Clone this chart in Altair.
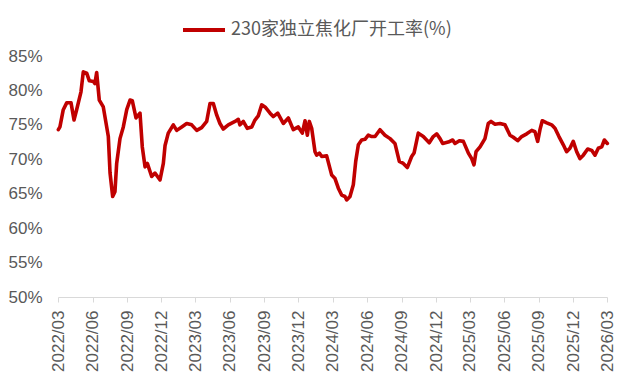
import altair as alt
import pandas as pd

# months elapsed since 2022-03-01
month_offset = [
    0.03, 0.17, 0.46, 0.76, 1.14, 1.40, 1.63, 2.01, 2.21, 2.51, 2.74, 3.09, 3.23, 3.38, 3.61,
    3.96, 4.40, 4.55, 4.78, 4.98, 5.13, 5.42, 5.71, 6.01, 6.30, 6.50, 6.82, 7.17, 7.37, 7.61,
    7.81, 8.19, 8.48, 8.92, 9.21, 9.36, 9.64, 10.08, 10.38, 10.82, 11.25, 11.69, 12.13, 12.56,
    13.00, 13.29, 13.58, 13.88, 14.16, 14.45, 14.89, 15.48, 15.76, 15.91, 16.20, 16.55, 16.94,
    17.22, 17.51, 17.81, 18.10, 18.54, 18.82, 19.21, 19.70, 20.14, 20.57, 21.01, 21.36, 21.60,
    21.80, 21.97, 22.18, 22.47, 22.62, 22.85, 23.06, 23.49, 23.93, 24.22, 24.51, 24.80, 25.09,
    25.24, 25.53, 25.82, 26.03, 26.26, 26.55, 26.84, 27.13, 27.43, 27.72, 28.15, 28.59, 29.03,
    29.46, 29.84, 30.19, 30.54, 30.92, 31.13, 31.50, 31.94, 32.46, 32.81, 33.11, 33.40, 33.63,
    34.12, 34.51, 34.71, 35.09, 35.44, 35.88, 36.17, 36.37, 36.55, 36.90, 37.33, 37.62, 37.86,
    38.21, 38.64, 39.08, 39.52, 39.81, 40.19, 40.54, 40.98, 41.42, 41.70, 41.94, 42.14, 42.34,
    42.73, 43.16, 43.45, 43.80, 44.18, 44.47, 44.76, 45.05, 45.35, 45.64, 45.93, 46.31, 46.66,
    46.95, 47.24, 47.54, 47.77, 48.03,
]
rate = [
    74.3, 74.7, 77.2, 78.2, 78.2, 75.7, 77.2, 79.8, 82.7, 82.5, 81.4, 81.3, 81.0, 82.6, 78.6,
    77.6, 73.3, 68.0, 64.6, 65.3, 69.4, 73.0, 74.7, 77.2, 78.6, 78.5, 76.0, 76.7, 71.8, 68.9,
    69.4, 67.5, 68.0, 67.0, 69.4, 72.0, 73.8, 75.0, 74.2, 74.7, 75.2, 75.0, 74.2, 74.6,
    75.5, 78.1, 78.1, 76.4, 75.2, 74.4, 75.0, 75.5, 75.8, 75.0, 75.5, 74.5, 74.7,
    75.7, 76.3, 77.9, 77.6, 76.7, 76.2, 76.7, 75.2, 76.0, 74.3, 74.7, 73.8, 75.6,
    73.5, 75.5, 74.5, 71.1, 70.6, 70.9, 70.4, 70.5, 67.7, 67.2, 65.8, 64.8, 64.6,
    64.1, 64.6, 66.3, 69.7, 72.1, 72.8, 72.9, 73.5, 73.3, 73.3, 74.3, 73.5, 73.0,
    72.3, 69.7, 69.4, 68.8, 70.4, 70.9, 73.8, 73.3, 72.4, 73.3, 73.7, 73.0, 72.3,
    72.5, 72.8, 72.3, 72.7, 72.6, 70.9, 70.1, 69.2, 71.1, 71.8, 73.0, 75.2, 75.5,
    75.1, 75.2, 75.0, 73.5, 73.2, 72.7, 73.3, 73.7, 74.2, 74.0, 72.6, 74.3, 75.6,
    75.3, 75.0, 74.5, 73.3, 72.1, 71.1, 71.6, 72.6, 71.1, 70.1, 70.6, 71.5, 71.3,
    70.6, 71.6, 71.8, 72.8, 72.3,
]
tick_months = ["2022-03", "2022-06", "2022-09", "2022-12", "2023-03", "2023-06", "2023-09",
               "2023-12", "2024-03", "2024-06", "2024-09", "2024-12", "2025-03", "2025-06",
               "2025-09", "2025-12", "2026-03"]
y_ticks = [50, 55, 60, 65, 70, 75, 80, 85]
series_name = "230家独立焦化厂开工率(%)"

start = pd.Timestamp("2022-03-01")
df = pd.DataFrame({
    "date": [start + pd.Timedelta(days=m * 30.4375) for m in month_offset],
    "rate": rate,
    "series": series_name,
})

tick_values = [alt.DateTime(year=int(t[:4]), month=int(t[5:]), date=1) for t in tick_months]

FONT = "Liberation Sans"
GREY = "#595959"

chart = alt.Chart(df).mark_line(strokeWidth=3.6, strokeJoin="round", strokeCap="round").encode(
    x=alt.X(
        "date:T",
        scale=alt.Scale(domain=[alt.DateTime(year=2022, month=3, date=1),
                                alt.DateTime(year=2026, month=3, date=1)]),
        axis=alt.Axis(
            title=None, values=tick_values, format="%Y/%m", labelAngle=-90,
            labelFont=FONT, labelFontSize=17, labelColor=GREY, labelPadding=8,
            domainColor="#d9d9d9", tickColor="#d9d9d9", tickSize=5, grid=False,
            labelOverlap=False, labelFlush=False,
        ),
    ),
    y=alt.Y(
        "rate:Q",
        scale=alt.Scale(domain=[50, 85], nice=False, zero=False),
        axis=alt.Axis(
            title=None, values=y_ticks, labelExpr="datum.value + '%'",
            labelFont=FONT, labelFontSize=17, labelColor=GREY, labelPadding=16,
            domain=False, ticks=False, tickSize=0, grid=False,
        ),
    ),
    color=alt.Color(
        "series:N",
        scale=alt.Scale(range=["#C00000"]),
        legend=alt.Legend(
            title=None, orient="none", legendX=123, legendY=-49,
            symbolType="stroke", symbolSize=1764, symbolStrokeWidth=4,
            labelFont="Noto Sans CJK SC", labelFontSize=18, labelColor=GREY,
            labelOffset=4, labelLimit=0,
        ),
    ),
).properties(
    width=549,
    height=241,
    autosize=alt.AutoSizeParams(type="none"),
    padding={"left": 50, "top": 48, "right": 12, "bottom": 80},
).configure_view(stroke=None)

chart.save("out.html", embed_options={"renderer": "svg", "actions": False})
